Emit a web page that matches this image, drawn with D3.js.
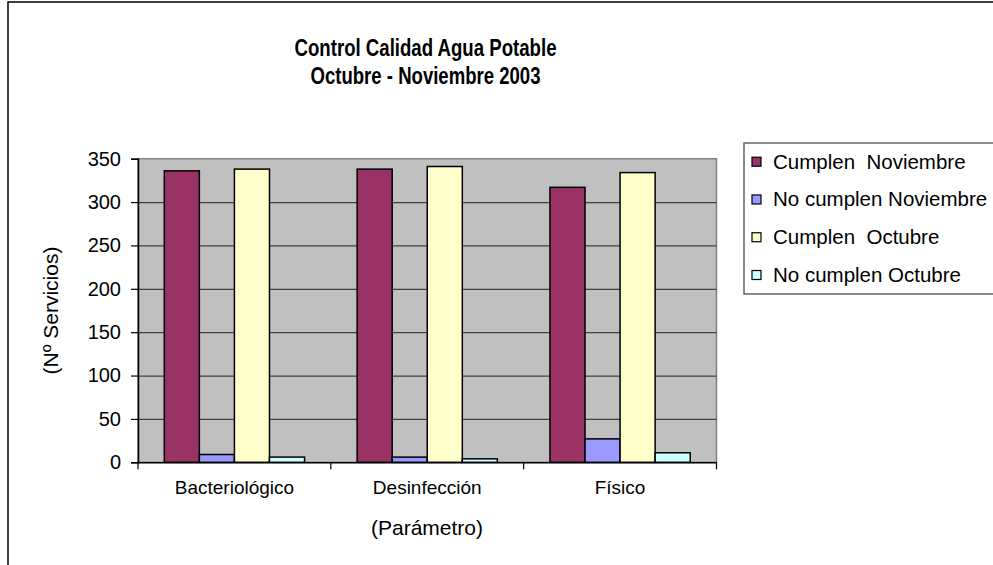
<!DOCTYPE html>
<html>
<head>
<meta charset="utf-8">
<script src="https://cdn.jsdelivr.net/npm/d3@7"></script>
<style>
  body { margin: 0; background: #fff; }
  text { font-family: "Liberation Sans", Arial, sans-serif; fill: #000; }
</style>
</head>
<body>
<div id="chart"></div>
<script>
var W = 993, H = 565;

// data
var categories = ["Bacteriológico", "Desinfección", "Físico"];
var seriesNames = ["Cumplen  Noviembre", "No cumplen Noviembre", "Cumplen  Octubre", "No cumplen Octubre"];
var seriesColors = ["#993366", "#9999FF", "#FFFFCC", "#CCFFFF"];
var cumplenNov = [336, 338, 317];
var noCumplenNov = [9, 6, 27];
var cumplenOct = [338, 341, 334];
var noCumplenOct = [6, 4, 11];
var yTicks = [0, 50, 100, 150, 200, 250, 300, 350];

var values = [cumplenNov, noCumplenNov, cumplenOct, noCumplenOct];

var svg = d3.select("#chart").append("svg")
    .attr("width", W)
    .attr("height", H);

// outer frame (runs off the right / bottom)
svg.append("rect")
    .attr("x", 8).attr("y", 2)
    .attr("width", W + 20).attr("height", H + 20)
    .attr("fill", "#fff")
    .attr("stroke", "#000")
    .attr("stroke-width", 1.5);

var plotL = 138, plotR = 716.5, plotT = 158.7, plotB = 462.3;

var x0 = d3.scaleBand()
    .domain(categories)
    .range([plotL, plotR])
    .padding(0);

var bw = x0.bandwidth();
var barW = bw / 5.5;   // excel gap width 150%
var x1 = d3.scaleBand()
    .domain(d3.range(seriesNames.length))
    .range([barW * 0.75, bw - barW * 0.75])
    .padding(0);

var y = d3.scaleLinear()
    .domain([0, 350])
    .range([plotB, plotT]);

// plot area
svg.append("rect")
    .attr("x", plotL).attr("y", plotT)
    .attr("width", plotR - plotL).attr("height", plotB - plotT)
    .attr("fill", "#C0C0C0")
    .attr("stroke", "#808080")
    .attr("stroke-width", 1.5);

// grid
var ygrid = d3.axisLeft(y)
    .tickValues(yTicks.slice(1, -1))
    .tickFormat("")
    .tickSize(-(plotR - plotL));

svg.append("g")
    .attr("class", "main-grid")
    .attr("transform", "translate(" + plotL + ",0)")
    .call(ygrid)
    .call(function (g) { g.select(".domain").remove(); })
    .selectAll("line")
    .attr("stroke", "#404040")
    .attr("stroke-width", 1.2);

// bars
var groups = svg.append("g").selectAll("g")
    .data(categories)
    .join("g")
    .attr("transform", function (d) { return "translate(" + x0(d) + ",0)"; });

groups.selectAll("rect")
    .data(function (d, ci) { return values.map(function (s, si) { return { si: si, v: s[ci] }; }); })
    .join("rect")
    .attr("x", function (d) { return x1(d.si); })
    .attr("y", function (d) { return y(d.v); })
    .attr("width", x1.bandwidth())
    .attr("height", function (d) { return y(0) - y(d.v); })
    .attr("fill", function (d) { return seriesColors[d.si]; })
    .attr("stroke", "#000")
    .attr("stroke-width", 1.5);

// axes
var yAxis = d3.axisLeft(y)
    .tickValues(yTicks)
    .tickSize(7)
    .tickPadding(10);

var gy = svg.append("g")
    .attr("transform", "translate(" + plotL + ",0)")
    .call(yAxis);
gy.select(".domain").attr("stroke", "#000").attr("stroke-width", 1.5);
gy.selectAll(".tick line").attr("stroke", "#000").attr("stroke-width", 1.2);
gy.selectAll(".tick text")
    .style("font-size", "20px")
    .attr("font-family", "Liberation Sans, Arial, sans-serif");

var xAxis = d3.axisBottom(x0).tickSize(0).tickPadding(18);
var gx = svg.append("g")
    .attr("transform", "translate(0," + plotB + ")")
    .call(xAxis);
gx.select(".domain").attr("stroke", "#000").attr("stroke-width", 1.5);
gx.selectAll(".tick text")
    .style("font-size", "19px")
    .attr("font-family", "Liberation Sans, Arial, sans-serif");

// category separator ticks
svg.append("g").selectAll("line")
    .data(categories.concat(["end"]))
    .join("line")
    .attr("x1", function (d, i) { return plotL + i * bw; })
    .attr("x2", function (d, i) { return plotL + i * bw; })
    .attr("y1", plotB)
    .attr("y2", plotB + 7)
    .attr("stroke", "#000")
    .attr("stroke-width", 1.2);

// titles (slightly condensed like the original)
svg.append("text")
    .attr("x", 425.5).attr("y", 56)
    .attr("text-anchor", "middle")
    .attr("textLength", 262)
    .attr("lengthAdjust", "spacingAndGlyphs")
    .style("font-size", "23px")
    .style("font-weight", "bold")
    .text("Control Calidad Agua Potable");

svg.append("text")
    .attr("x", 425.5).attr("y", 84)
    .attr("text-anchor", "middle")
    .attr("textLength", 230)
    .attr("lengthAdjust", "spacingAndGlyphs")
    .style("font-size", "23px")
    .style("font-weight", "bold")
    .text("Octubre - Noviembre 2003");

svg.append("text")
    .attr("transform", "translate(58," + ((plotT + plotB) / 2) + ") rotate(-90)")
    .attr("text-anchor", "middle")
    .style("font-size", "21px")
    .text("(Nº Servicios)");

svg.append("text")
    .attr("x", 427).attr("y", 535)
    .attr("text-anchor", "middle")
    .style("font-size", "21px")
    .text("(Parámetro)");

// legend
var legend = svg.append("g");
legend.append("rect")
    .attr("x", 744).attr("y", 143)
    .attr("width", 280).attr("height", 151)
    .attr("fill", "#fff")
    .attr("stroke", "#666")
    .attr("stroke-width", 1.5);

var rowY = d3.scalePoint()
    .domain(d3.range(seriesNames.length))
    .range([161.7, 275]);

var items = legend.selectAll("g.item")
    .data(seriesNames)
    .join("g")
    .attr("class", "item")
    .attr("transform", function (d, i) { return "translate(752," + rowY(i) + ")"; });

items.append("rect")
    .attr("x", 0).attr("y", -4.5)
    .attr("width", 9).attr("height", 9)
    .attr("fill", function (d, i) { return seriesColors[i]; })
    .attr("stroke", "#000")
    .attr("stroke-width", 1.2);

items.append("text")
    .attr("x", 21).attr("y", 7)
    .style("font-size", "20.5px")
    .style("white-space", "pre")
    .attr("xml:space", "preserve")
    .text(function (d) { return d; });
</script>
</body>
</html>
